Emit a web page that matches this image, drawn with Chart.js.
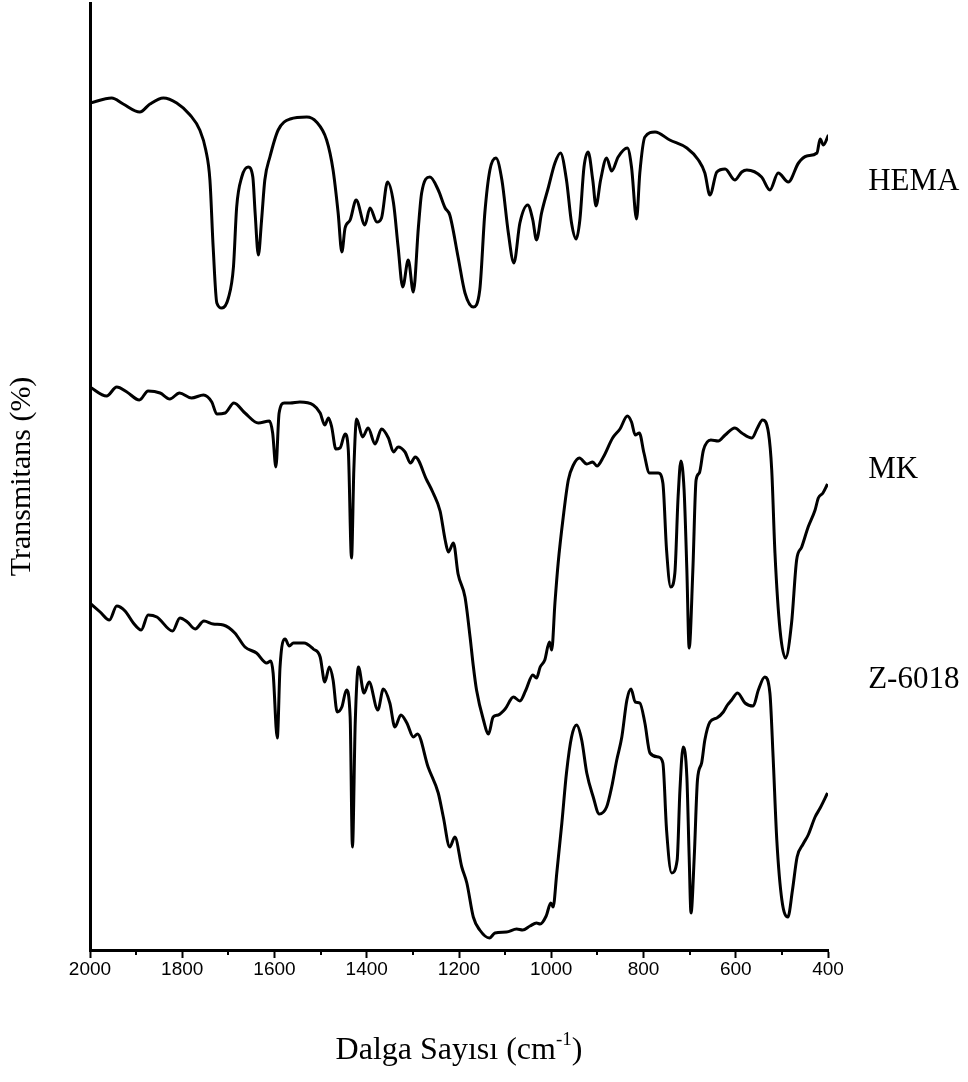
<!DOCTYPE html>
<html>
<head>
<meta charset="utf-8">
<title>FTIR - HEMA / MK / Z-6018</title>
<script src="https://cdn.jsdelivr.net/npm/chart.js@4.4.1/dist/chart.umd.min.js"></script>
<style>
  html, body { margin: 0; padding: 0; background: #fff; }
  .chart-box { position: relative; width: 968px; height: 1082px; }
</style>
</head>
<body>
<div class="chart-box">
  <canvas id="ftirChart"></canvas>
</div>
<script>
// dalga sayısı (cm-1) ve transmitans değerleri (eğriler dikeyde kaydırılmış)
const hemaWave = [2000,1953,1928,1892,1870,1841,1812,1783,1762,1749,1740,1733,1725,1714,1700,1689,1682,1671,1657,1647,1642,1635,1628,1621,1610,1592,1566,1530,1509,1487,1473,1462,1454,1447,1436,1423,1404,1393,1378,1368,1355,1342,1332,1322,1310,1299,1288,1281,1263,1245,1230,1220,1202,1187,1169,1155,1144,1133,1120,1107,1093,1081,1068,1051,1040,1032,1021,1006,992,980,967,956,946,938,929,920,910,903,893,880,869,855,835,826,815,808,797,775,743,706,681,667,656,641,623,602,587,576,544,526,508,486,464,446,424,417,410,399];
const hemaT = [84.7,85.2,84.6,83.8,84.6,85.2,84.7,83.5,82.0,80.0,77.0,70.3,64.7,64.2,65.2,68.3,74.3,77.3,78.3,77.3,73.7,69.5,73.0,77.0,79.3,82.0,83.1,83.3,82.8,81.0,78.0,73.7,69.8,72.2,73.0,75.0,72.5,74.2,72.8,73.2,76.8,74.7,70.3,66.3,69.0,65.8,72.3,75.7,77.3,76.0,74.2,73.5,69.3,65.7,64.3,66.0,73.7,78.0,79.2,77.0,71.7,68.7,72.7,74.5,73.0,71.0,73.7,76.3,78.7,79.7,77.0,72.7,71.1,73.0,78.3,79.8,77.0,74.4,77.0,79.2,77.9,79.3,80.2,78.3,73.1,77.7,81.3,81.8,81.0,80.2,79.0,77.7,75.5,77.8,78.1,77.0,77.8,78.0,77.3,76.0,77.7,76.8,78.7,79.4,79.7,81.1,80.5,81.5];

const mkWave = [2000,1964,1942,1920,1893,1874,1848,1827,1806,1780,1754,1736,1725,1707,1688,1664,1635,1611,1604,1597,1590,1579,1566,1545,1516,1501,1491,1483,1476,1467,1458,1447,1440,1433,1428,1422,1409,1397,1382,1368,1353,1342,1332,1317,1305,1295,1270,1256,1241,1230,1223,1212,1202,1187,1176,1169,1162,1147,1136,1126,1115,1100,1082,1068,1055,1040,1032,1024,1014,1004,999,992,985,974,963,952,939,923,910,901,887,867,851,835,826,818,809,799,787,768,758,750,741,732,725,719,712,706,701,693,686,679,670,654,638,623,602,587,565,553,542,529,522,515,504,492,479,468,457,443,428,421,411,401];
const mkT = [56.3,55.4,56.3,55.8,55.0,55.9,55.7,55.1,55.7,55.2,55.5,54.8,53.6,53.7,54.7,53.7,52.7,52.9,51.7,48.3,53.7,54.7,54.7,54.8,54.5,53.7,52.5,53.2,52.3,50.1,50.2,51.6,50.0,39.2,48.0,53.1,51.3,52.2,50.6,52.1,51.2,49.8,50.3,49.8,48.7,49.3,47.0,45.7,43.9,41.0,39.8,40.7,37.6,35.3,31.3,28.4,26.0,23.0,21.6,23.3,23.5,24.1,25.3,24.9,26.0,27.5,27.2,28.3,29.0,30.8,30.0,34.7,38.7,43.3,47.0,48.5,49.2,48.6,48.8,48.4,49.3,51.2,52.1,53.4,52.8,51.5,51.7,49.7,47.7,47.7,46.7,40.0,36.3,37.7,45.3,48.9,46.0,38.0,30.2,38.0,47.0,47.7,50.0,51.0,50.9,51.5,52.2,51.7,51.2,52.2,53.0,51.7,48.0,39.7,32.0,29.2,32.7,39.0,40.3,42.3,44.0,45.2,45.7,46.6];

const zWave = [2000,1978,1958,1942,1924,1906,1889,1874,1855,1821,1805,1789,1772,1753,1733,1711,1686,1664,1639,1617,1608,1603,1594,1588,1577,1568,1559,1536,1516,1501,1491,1481,1473,1464,1454,1444,1436,1431,1425,1418,1406,1395,1376,1364,1350,1339,1326,1313,1299,1290,1267,1245,1234,1220,1209,1194,1183,1169,1155,1134,1122,1097,1075,1062,1046,1032,1024,1011,1001,996,988,977,967,956,945,934,923,909,896,880,869,858,847,836,827,818,808,797,786,768,758,750,739,727,721,714,706,701,697,690,683,674,667,656,641,627,618,609,596,580,562,551,537,526,519,511,500,487,477,467,454,443,428,417,401];
const zT = [34.7,33.8,33.0,34.4,33.9,32.7,32.0,33.5,33.3,31.9,33.2,32.8,32.1,32.9,32.6,32.5,31.7,30.3,29.7,28.7,28.9,27.7,21.2,28.3,31.1,30.4,30.7,30.7,30.1,29.3,26.8,28.3,27.0,23.8,24.3,26.0,23.3,10.3,22.7,28.3,25.7,26.8,24.0,26.1,24.7,22.3,23.5,22.7,21.3,21.6,18.3,15.7,13.3,10.3,11.3,8.3,6.7,3.3,2.0,1.2,1.7,1.8,2.1,2.0,2.4,2.7,2.6,3.4,4.7,4.3,7.7,12.7,17.7,21.3,22.5,21.0,17.7,15.3,13.6,14.3,16.3,19.0,21.3,25.0,26.1,24.8,24.7,22.7,19.7,19.3,18.7,12.0,7.7,9.0,16.0,20.3,17.3,9.3,3.7,9.3,17.0,18.7,21.0,22.8,23.2,23.8,24.5,25.0,25.7,24.7,24.4,26.0,27.3,25.7,19.3,11.0,5.0,3.3,6.0,9.3,10.6,11.5,13.3,14.2,15.7];

// eğri isimleri, sağ tarafta yazılıyor (x: dalga sayısı, y: transmitans)
const seriesNames = ['HEMA', 'MK', 'Z-6018'];
const nameWave = [313, 313, 313];
const nameT = [76.0, 47.2, 26.2];

const xMin = 400;
const xMax = 2000;
const majorStep = 200;
const minorStep = 100;

function toPoints(wave, t) {
  return wave.map((w, i) => ({ x: w, y: t[i] }));
}

// küçük ara çentikler (100'lük), eğri isimleri ve x başlığı
const extrasPlugin = {
  id: 'extras',
  afterDraw(chart) {
    const { ctx } = chart;
    const xs = chart.scales.x;
    const ys = chart.scales.y;
    ctx.save();

    ctx.strokeStyle = '#000';
    ctx.lineWidth = 2;
    for (let v = xMin + minorStep; v < xMax; v += majorStep) {
      const px = Math.round(xs.getPixelForValue(v));
      ctx.beginPath();
      ctx.moveTo(px, xs.top);
      ctx.lineTo(px, xs.top + 5);
      ctx.stroke();
    }

    ctx.fillStyle = '#000';
    ctx.font = '31px "Liberation Serif", "Times New Roman", serif';
    ctx.textAlign = 'left';
    ctx.textBaseline = 'alphabetic';
    seriesNames.forEach((name, i) => {
      ctx.fillText(name, xs.getPixelForValue(nameWave[i]), ys.getPixelForValue(nameT[i]));
    });

    // x ekseni başlığı, üst simge ile
    const main = 'Dalga Sayısı (cm';
    const sup = '-1';
    const end = ')';
    ctx.font = '32px "Liberation Serif", "Times New Roman", serif';
    const w1 = ctx.measureText(main).width;
    const w3 = ctx.measureText(end).width;
    ctx.font = '19px "Liberation Serif", "Times New Roman", serif';
    const w2 = ctx.measureText(sup).width;
    let x = (chart.chartArea.left + chart.chartArea.right) / 2 - (w1 + w2 + w3) / 2;
    const base = xs.bottom - 23;
    ctx.font = '32px "Liberation Serif", "Times New Roman", serif';
    ctx.fillText(main, x, base);
    x += w1;
    ctx.font = '19px "Liberation Serif", "Times New Roman", serif';
    ctx.fillText(sup, x, base - 14);
    x += w2;
    ctx.font = '32px "Liberation Serif", "Times New Roman", serif';
    ctx.fillText(end, x, base);

    ctx.restore();
  },
};

const lineStyle = {
  borderColor: '#000',
  borderWidth: 3,
  pointRadius: 0,
  fill: false,
  cubicInterpolationMode: 'monotone',
};

new Chart(document.getElementById('ftirChart'), {
  type: 'line',
  data: {
    datasets: [
      { label: 'HEMA', data: toPoints(hemaWave, hemaT), ...lineStyle },
      { label: 'MK', data: toPoints(mkWave, mkT), ...lineStyle },
      { label: 'Z-6018', data: toPoints(zWave, zT), ...lineStyle },
    ],
  },
  options: {
    responsive: true,
    maintainAspectRatio: false,
    animation: false,
    devicePixelRatio: 1,
    layout: { padding: { top: 3, right: 140, left: 0, bottom: 0 } },
    plugins: {
      legend: { display: false },
      tooltip: { enabled: false },
    },
    scales: {
      x: {
        type: 'linear',
        reverse: true,
        min: xMin,
        max: xMax,
        afterFit: (scale) => { scale.height = 132; },
        border: { display: true, color: '#000', width: 3 },
        grid: {
          display: true,
          drawOnChartArea: false,
          drawTicks: true,
          tickLength: 8,
          tickWidth: 2,
          tickColor: (ctx) => (ctx.tick && ctx.tick.value % majorStep === 0 ? '#000' : 'rgba(0,0,0,0)'),
        },
        ticks: {
          stepSize: minorStep,
          autoSkip: false,
          maxRotation: 0,
          padding: 0,
          color: '#000',
          font: { family: '"Liberation Sans", Arial, sans-serif', size: 19 },
          callback: (v) => (v % majorStep === 0 ? String(v) : ''),
        },
        title: { display: false },
      },
      y: {
        type: 'linear',
        min: 0,
        max: 94.7,
        afterFit: (scale) => { scale.width = 90; },
        border: { display: true, color: '#000', width: 3 },
        grid: { display: false },
        ticks: { display: false },
        title: {
          display: true,
          text: 'Transmitans (%)',
          color: '#000',
          font: { family: '"Liberation Serif", "Times New Roman", serif', size: 30, weight: 'normal' },
          padding: { top: 4, bottom: 0 },
        },
      },
    },
  },
  plugins: [extrasPlugin],
});
</script>
</body>
</html>
